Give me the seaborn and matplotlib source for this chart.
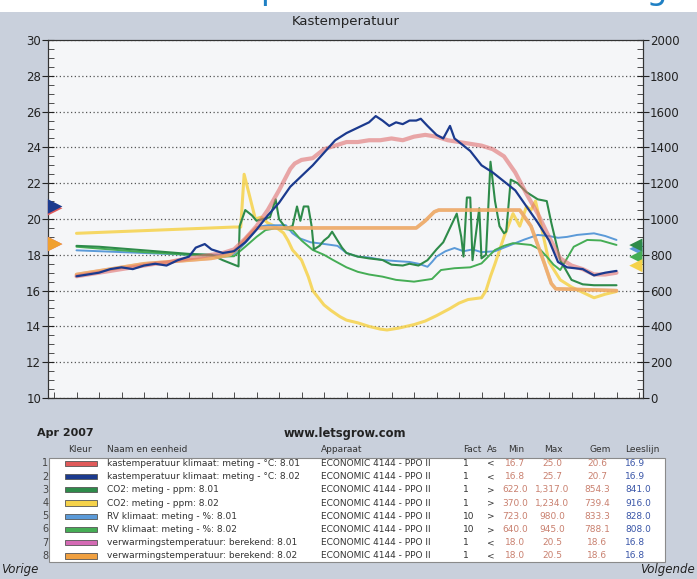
import numpy as np
import pandas as pd
import matplotlib
matplotlib.use("Agg")
import matplotlib.pyplot as plt
import seaborn as sns
from matplotlib.patches import Rectangle
from matplotlib.ticker import MultipleLocator
from matplotlib.transforms import blended_transform_factory

sns.set_style("white")
plt.rcParams['font.family'] = ['DejaVu Sans']

# ---------------- data (hours since Do 19 00:00) ----------------
t_kas1 = [0, 0.5, 1, 1.5, 2, 2.5, 3, 3.5, 4, 4.5, 5, 5.5, 6, 6.5, 7, 7.5, 8, 8.5, 9, 9.5, 9.7,
          10, 10.5, 11, 11.5, 12, 12.5, 13, 13.5, 14, 14.5, 15, 15.5, 16, 16.5, 17, 17.5, 18,
          18.5, 19, 19.5, 20, 20.5, 21, 21.5, 22, 22.5, 23, 23.5, 24]
kas_801 = [16.8, 16.9, 17.0, 17.1, 17.2, 17.3, 17.4, 17.5, 17.55, 17.7, 17.8, 17.9, 18.0, 18.1,
           18.3, 18.9, 19.6, 20.5, 21.6, 22.8, 23.1, 23.3, 23.4, 23.9, 24.1, 24.3, 24.3, 24.4,
           24.4, 24.5, 24.4, 24.6, 24.7, 24.6, 24.4, 24.3, 24.2, 24.1, 23.9, 23.5, 22.6, 21.4,
           20.3, 19.0, 17.8, 17.4, 17.2, 16.9, 16.9, 17.0]

t_kas2 = [0, 0.5, 1, 1.5, 2, 2.5, 3, 3.5, 4, 4.5, 5, 5.3, 5.7, 6, 6.5, 7, 7.5, 8, 8.5, 9, 9.5,
          10, 10.5, 11, 11.5, 12, 12.5, 13, 13.3, 13.6, 13.9, 14.2, 14.5, 14.8, 15.1, 15.3,
          15.6, 16, 16.3, 16.6, 16.8, 17.1, 17.5, 18, 18.5, 19, 19.5, 20, 20.5, 21, 21.4, 21.8,
          22.5, 23, 23.5, 24]
kas_802 = [16.8, 16.9, 17.0, 17.2, 17.3, 17.2, 17.4, 17.5, 17.4, 17.7, 17.9, 18.4, 18.6, 18.3,
           18.1, 18.2, 18.7, 19.4, 20.2, 20.9, 21.8, 22.4, 23.0, 23.7, 24.4, 24.8, 25.1, 25.4,
           25.75, 25.5, 25.2, 25.4, 25.3, 25.5, 25.5, 25.6, 25.2, 24.7, 24.5, 25.2, 24.5, 24.2,
           23.8, 23.0, 22.6, 22.1, 21.6, 20.7, 19.8, 18.8, 17.6, 17.3, 17.2, 16.85, 17.0, 17.1]

t_co2_1 = [0, 1, 2, 3, 4, 5, 6, 6.5, 7.2, 7.25, 7.5, 7.8, 8.0, 8.3, 8.6, 8.85, 9.0, 9.3, 9.6,
           9.8, 9.95, 10.1, 10.3, 10.45, 10.55, 10.8, 11.0, 11.2, 11.36, 11.6, 11.8, 12.0, 12.5,
           13.0, 13.6, 14.0, 14.5, 14.8, 15.2, 15.6, 16.0, 16.3, 16.6, 16.9, 17.1, 17.2, 17.35,
           17.5, 17.6, 17.9, 18.0, 18.2, 18.4, 18.6, 18.8, 19.0, 19.1, 19.3, 19.6, 20.0, 20.5,
           20.9, 21.1, 21.5, 22.0, 22.5, 23.0, 24.0]
co2_801 = [850, 845, 835, 825, 815, 805, 800, 770, 735, 960, 1050, 1020, 990, 1000, 1010, 1110,
           1000, 950, 960, 1070, 990, 1070, 1070, 960, 830, 850, 880, 900, 929, 880, 840, 810,
           790, 780, 771, 745, 740, 750, 740, 770, 830, 870, 950, 1030, 900, 790, 1120, 1120,
           770, 1060, 780, 800, 1320, 1100, 960, 920, 930, 1220, 1200, 1150, 1110, 1100, 980,
           770, 660, 635, 630, 630]

t_co2_2 = [0, 1, 2, 3, 4, 5, 6, 7.0, 7.3, 7.45, 7.7, 7.95, 8.2, 8.5, 8.8, 9.2, 9.4, 9.6, 10.0,
           10.3, 10.5, 11.0, 11.3, 11.7, 12.0, 12.5, 13.0, 13.5, 13.8, 14.3, 15.0, 15.5, 16.0,
           16.6, 17.0, 17.4, 18.0, 18.2, 18.4, 18.6, 19.0, 19.4, 19.7, 20.0, 20.2, 20.4, 20.6,
           21.0, 21.5, 22.0, 22.5, 23.0, 23.5, 24.0]
co2_802 = [920, 925, 930, 935, 940, 945, 950, 955, 955, 1250, 1125, 1000, 1010, 978, 960, 922,
           880, 827, 771, 678, 600, 520, 490, 455, 435, 420, 400, 385, 380, 390, 410, 430, 460,
           500, 530, 550, 560, 600, 680, 750, 900, 1030, 960, 1070, 1050, 1100, 990, 760, 660,
           620, 590, 560, 580, 595]

t_rv1 = [0, 1, 2, 3, 4, 5, 6, 6.5, 7.0, 7.3, 7.6, 8.1, 8.5, 9.0, 9.3, 9.6, 9.9, 10.4, 10.8, 11.6,
         12.0, 12.5, 13.0, 13.6, 14.2, 14.8, 15.2, 15.6, 15.8, 16.0, 16.4, 16.8, 17.2, 17.6, 18.0,
         18.6, 19.3, 19.9, 20.5, 21.0, 21.4, 21.8, 22.25, 23.0, 23.5, 24.0]
rv_801 = [825, 820, 815, 810, 805, 800, 800, 800, 805, 840, 880, 957, 965, 965, 966, 920, 893,
          870, 864, 850, 810, 790, 785, 771, 765, 760, 750, 733, 760, 790, 820, 838, 820, 830,
          815, 820, 855, 885, 911, 905, 895, 900, 911, 920, 905, 883]

t_rv2 = [0, 1, 2, 3, 4, 5, 6, 6.5, 7.0, 7.5, 8.0, 8.4, 8.8, 9.2, 9.6, 10.0, 10.5, 11.0, 11.4,
         12.0, 12.5, 13.0, 13.6, 14.2, 15.0, 15.8, 16.2, 16.8, 17.5, 18.0, 18.3, 18.6, 19.0,
         19.4, 19.8, 20.2, 20.6, 20.9, 21.2, 21.5, 21.8, 22.1, 22.7, 23.3, 24.0]
rv_802 = [845, 835, 825, 815, 808, 800, 795, 790, 792, 845, 900, 938, 947, 945, 938, 880, 827,
          800, 771, 730, 705, 690, 678, 660, 650, 665, 715, 725, 730, 752, 790, 827, 850, 865,
          860, 855, 830, 790, 745, 715, 780, 845, 883, 880, 855]

t_verw = [0, 1, 2, 3, 4, 5, 6, 6.8, 7.2, 7.6, 8.0, 15.1, 15.5, 15.9, 16.1, 19.7, 20.2, 20.8,
          21.1, 21.3, 24.0]
verw_801 = [16.9, 17.1, 17.3, 17.5, 17.6, 17.7, 17.8, 18.0, 18.4, 19.0, 19.5, 19.5, 19.9, 20.4,
            20.5, 20.5, 19.6, 17.5, 16.4, 16.1, 16.0]
verw_802 = [16.9, 17.1, 17.3, 17.5, 17.6, 17.7, 17.8, 18.0, 18.4, 19.0, 19.5, 19.5, 19.9, 20.4,
            20.5, 20.5, 19.6, 17.5, 16.4, 16.1, 16.0]

# ---------------- table data ----------------
names = ["kastemperatuur klimaat: meting - °C: 8.01", "kastemperatuur klimaat: meting - °C: 8.02",
         "CO2: meting - ppm: 8.01", "CO2: meting - ppm: 8.02",
         "RV klimaat: meting - %: 8.01", "RV klimaat: meting - %: 8.02",
         "verwarmingstemperatuur: berekend: 8.01", "verwarmingstemperatuur: berekend: 8.02"]
apparaat = ["ECONOMIC 4144 - PPO II"] * 8
fact = [1, 1, 1, 1, 10, 10, 1, 1]
as_side = ["<", "<", ">", ">", ">", ">", "<", "<"]
v_min = [16.7, 16.8, 622.0, 370.0, 723.0, 640.0, 18.0, 18.0]
v_max = [25.0, 25.7, 1317.0, 1234.0, 980.0, 945.0, 20.5, 20.5]
v_gem = [20.6, 20.7, 854.3, 739.4, 833.3, 788.1, 18.6, 18.6]
v_lees = [16.9, 16.9, 841.0, 916.0, 828.0, 808.0, 16.8, 16.8]
colors = ["#e05a5a", "#1b3a8e", "#2e8b4a", "#f5d24a", "#5b9ad8", "#45ad55", "#d46ab4", "#f0a040"]

x_ticks = [0, 3, 6, 9, 12, 15, 18, 21, 24]
x_labels = ["Do   19", "3:00", "6:00", "9:00", "12:00", "15:00", "18:00", "21:00", "Vr   20"]

# ---------------- figure ----------------
W, H = 697, 579
BG = "#c9d0dc"
fig = plt.figure(figsize=(W / 100, H / 100), dpi=100, facecolor=BG)


def fx(x):
    return x / W


def fy(y):
    return 1 - y / H


# top white strip with the (cut-off) page heading: only its descenders show
fig.patches.append(Rectangle((0, fy(12)), 1, 12 / H, transform=fig.transFigure,
                             facecolor="white", edgecolor="none", zorder=0))
fig.text(fx(193), fy(-0.5), "Temperatuur en verwarming", color="#1f80c4", fontsize=24,
         ha="left", va="baseline")

L, R, T, B = 48, 643, 40, 398
ax2 = fig.add_axes([fx(L), fy(B), (R - L) / W, (B - T) / H])
ax = ax2.twinx()
ax.yaxis.tick_left()
ax.yaxis.set_label_position("left")
ax2.yaxis.tick_right()
ax2.yaxis.set_label_position("right")
ax2.set_zorder(1)
ax.set_zorder(2)
ax.patch.set_visible(False)
ax2.patch.set_facecolor("#f5f6f8")

xmin, xmax = (L - 76.5) / 22.5, (R - 76.5) / 22.5
ax2.set_xlim(xmin, xmax)
ax.set_xlim(xmin, xmax)
ax.set_ylim(10, 30)
ax2.set_ylim(0, 2000)


def line(a, t, v, c, lw, alpha=1.0, z=2):
    df = pd.DataFrame({"t": t, "v": v})
    sns.lineplot(data=df, x="t", y="v", ax=a, color=c, lw=lw, alpha=alpha,
                 zorder=z, legend=False, estimator=None)


# right-axis series
line(ax2, t_co2_2, co2_802, colors[3], 2.2, 0.85, 2)
line(ax2, t_rv1, rv_801, colors[4], 1.4, 1.0, 3)
line(ax2, t_rv2, rv_802, colors[5], 1.4, 1.0, 3)
line(ax2, t_co2_1, co2_801, colors[2], 1.5, 1.0, 4)
# left-axis series
line(ax, t_verw, verw_801, colors[6], 2.4, 0.6, 1)
line(ax, t_verw, verw_802, "#f2b45a", 2.6, 0.8, 2)
line(ax, t_kas1, kas_801, "#e07070", 3.0, 0.6, 3)
line(ax, t_kas2, kas_802, colors[1], 1.6, 1.0, 4)

# mean (Gem) indicators at the axis edges
trL = blended_transform_factory(ax.transAxes, ax.transData)
trR = blended_transform_factory(ax2.transAxes, ax2.transData)
for i in [6, 0, 7, 1]:
    c = "#f0a030" if i == 7 else colors[i]
    ax.scatter([0.012], [v_gem[i]], marker=">", s=110, color=c, transform=trL,
               clip_on=False, zorder=6, edgecolor="none")
for i in [4, 2, 5, 3]:
    ax2.scatter([0.988], [v_gem[i]], marker="<", s=90, color=colors[i], transform=trR,
                clip_on=False, zorder=6, edgecolor="none")

# grid and ticks
ax2.xaxis.set_major_locator(matplotlib.ticker.FixedLocator(x_ticks))
ax2.xaxis.set_minor_locator(MultipleLocator(1))
ax2.set_xticklabels(x_labels)
ax.set_xticks([])
ax.set_yticks(np.arange(10, 31, 2))
ax.yaxis.set_minor_locator(MultipleLocator(0.5))
ax2.set_yticks(np.arange(0, 2001, 200))
ax2.yaxis.set_minor_locator(MultipleLocator(50))
ax2.grid(True, which="major", color="#555555", lw=0.9, linestyle=(0, (1, 2)))
ax.grid(False)
for a in (ax, ax2):
    a.set_xlabel("")
    a.set_ylabel("")
    for s in a.spines.values():
        s.set_color("#333333")
        s.set_linewidth(0.8)
ax.tick_params(axis="y", which="major", direction="inout", length=8, width=0.8,
               labelsize=8.5, pad=1, colors="#222222", left=True)
ax.tick_params(axis="y", which="minor", direction="in", length=4, width=0.6, color="#333333")
ax2.tick_params(axis="y", which="major", direction="inout", length=8, width=0.8,
                labelsize=8.5, pad=1, colors="#222222", right=True)
ax2.tick_params(axis="y", which="minor", direction="in", length=4, width=0.6, color="#333333")
ax2.tick_params(axis="x", which="major", direction="out", length=7, width=0.8,
                labelsize=8.5, pad=3, colors="#222222", bottom=True)
ax2.tick_params(axis="x", which="minor", direction="in", length=4, width=0.6,
                color="#333333", bottom=True)

# texts around the chart
fig.text(fx(346), fy(22), "Kastemperatuur", ha="center", va="center", fontsize=9.5,
         color="#222222")
fig.text(fx(37), fy(433), "Apr 2007", ha="left", va="center", fontsize=8, color="#222222",
         fontweight="bold")
fig.text(fx(345), fy(433), "www.letsgrow.com", ha="center", va="center", fontsize=8.3,
         color="#222222", fontweight="bold")

# table
fs = 6.5
hy = 450
hdr = [(68, "Kleur"), (107, "Naam en eenheid"), (321, "Apparaat"), (463, "Fact"),
       (487, "As"), (508, "Min"), (544, "Max"), (590, "Gem"), (625, "Leeslijn")]
for x, s in hdr:
    fig.text(fx(x), fy(hy), s, ha="left", va="center", fontsize=fs, color="#333333")

fig.patches.append(Rectangle((fx(49), fy(562)), (665 - 49) / W, (562 - 458) / H,
                             transform=fig.transFigure, facecolor="white",
                             edgecolor="#8a8a8a", lw=0.8, zorder=1))
row0, dy = 463.3, 13.24
for i in range(8):
    y = row0 + i * dy
    fig.text(fx(48.5), fy(y), str(i + 1), ha="right", va="center", fontsize=fs + 0.5,
             color="#444444")
    fig.patches.append(Rectangle((fx(65), fy(y + 2.6)), 32 / W, 5.2 / H,
                                 transform=fig.transFigure, facecolor=colors[i],
                                 edgecolor="#555555", lw=0.6, zorder=2))
    fig.text(fx(107), fy(y), names[i], ha="left", va="center", fontsize=fs, color="#333333",
             zorder=3)
    fig.text(fx(321), fy(y), apparaat[i], ha="left", va="center", fontsize=fs,
             color="#333333", zorder=3)
    fig.text(fx(463), fy(y), str(fact[i]), ha="left", va="center", fontsize=fs,
             color="#333333", zorder=3)
    fig.text(fx(487), fy(y), as_side[i], ha="left", va="center", fontsize=fs,
             color="#333333", zorder=3)
    fig.text(fx(515), fy(y), f"{v_min[i]:,.1f}", ha="center", va="center", fontsize=fs,
             color="#c9806f", zorder=3)
    fig.text(fx(552), fy(y), f"{v_max[i]:,.1f}", ha="center", va="center", fontsize=fs,
             color="#c9806f", zorder=3)
    fig.text(fx(597), fy(y), f"{v_gem[i]:,.1f}", ha="center", va="center", fontsize=fs,
             color="#c9806f", zorder=3)
    fig.text(fx(625), fy(y), f"{v_lees[i]:,.1f}", ha="left", va="center", fontsize=fs,
             color="#3a56a8", zorder=3)

fig.text(fx(1), fy(570), "Vorige", ha="left", va="center", fontsize=8.5, style="italic",
         color="#222222")
fig.text(fx(640), fy(570), "Volgende", ha="left", va="center", fontsize=8.5, style="italic",
         color="#222222")

fig.savefig("out.png", dpi=100, facecolor=BG)
